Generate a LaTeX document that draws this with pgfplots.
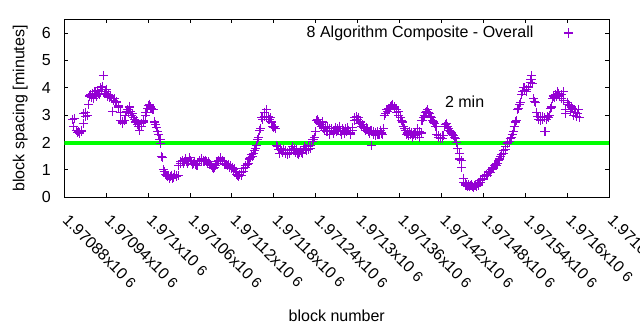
\documentclass[border=0pt,12pt]{standalone}
\usepackage{fontspec}
\setmainfont{Liberation Sans}
\usepackage{pgfplots}
\pgfplotsset{compat=1.18}
\definecolor{gpviolet}{HTML}{9400D3}
\definecolor{gpgreen}{HTML}{00FF00}
\begin{document}
\begin{tikzpicture}
% x values: block number minus 1970000
\begin{axis}[
  scale only axis,
  width=408.75pt, height=133.5pt,
  xmin=880, xmax=1660, ymin=0, ymax=6.5,
  xtick={880,940,...,1660},
  xticklabels={1.97088x10 {\small 6},1.97094x10 {\small 6},1.971x10 {\small 6},1.97106x10 {\small 6},1.97112x10 {\small 6},1.97118x10 {\small 6},1.97124x10 {\small 6},1.9713x10 {\small 6},1.97136x10 {\small 6},1.97142x10 {\small 6},1.97148x10 {\small 6},1.97154x10 {\small 6},1.9716x10 {\small 6},1.97166x10 {\small 6}},
  ytick={0,1,...,6},
  /pgf/number format/assume math mode=true,
  tick align=inside,
  major tick length=3pt,
  axis line style={line width=0.75pt},
  every tick/.style={line width=0.75pt, black},
  xticklabel style={xshift=4.2pt, yshift=-11.8pt, rotate=-45, anchor=north west, inner sep=0pt},
  yticklabel style={xshift=-6pt},
  every axis x label/.style={at={(axis description cs:0.5,0)}, anchor=center, yshift=-88.5pt},
  every axis y label/.style={at={(axis description cs:0,0.5)}, xshift=-33pt, rotate=90, anchor=center},
  xlabel={block number},
  ylabel={block spacing [minutes]},
  legend plot pos=right,
  legend cell align=right,
  legend style={draw=none, fill=none, at={(axis cs:1626.6,6)}, anchor=east},
  legend image code/.code={\path[draw=none,fill=none] (0cm,-0.1cm) rectangle (1.2cm,0.1cm); \draw plot coordinates {(0.85cm,0cm)};},
]
\addplot[only marks, mark=+, mark size=3.4pt, color=gpviolet, mark options={line width=0.8pt}] coordinates {
(892,2.85)(893,2.6)(895,2.88)(897,2.45)(899,2.38)(901,2.4)(902,2.35)(904,2.45)(905,2.42)(907,2.7)
(908,3.05)(910,3.1)(911,2.95)(913,3.0)(915,3.4)(916,3.7)(918,3.75)(919,3.65)(921,3.8)(922,3.6)
(924,3.85)(926,3.7)(927,3.9)(929,3.8)(930,3.75)(932,4.0)(933,3.95)(935,4.05)(936,4.45)(937,3.8)
(939,3.85)(940,3.95)(942,3.7)(943,3.75)(945,3.65)(946,3.7)(948,3.6)(949,3.15)(951,3.55)(952,3.6)
(954,3.45)(955,3.5)(957,3.3)(958,3.35)(960,3.1)(961,2.8)(963,2.75)(964,2.7)(966,2.8)(967,3.0)
(969,3.15)(970,3.2)(972,3.1)(973,3.3)(975,3.15)(976,3.0)(978,3.05)(979,2.9)(981,2.85)(982,2.75)
(984,2.8)(985,2.65)(987,2.6)(988,2.45)(990,2.7)(991,2.6)(993,2.75)(994,2.8)(996,3.0)(997,3.1)
(999,3.25)(1000,3.35)(1002,3.4)(1003,3.3)(1005,3.25)(1006,3.2)(1008,3.2)(1009,2.75)(1011,2.65)(1012,2.55)
(1014,2.4)(1015,2.3)(1017,2.1)(1018,1.95)(1019,1.5)(1020,1.45)(1022,1.0)(1023,0.95)(1025,0.85)(1026,0.8)
(1028,0.75)(1029,0.8)(1031,0.7)(1032,0.75)(1034,0.8)(1035,0.7)(1037,0.72)(1038,0.85)(1040,0.78)(1041,0.75)
(1043,0.8)(1044,1.15)(1046,1.25)(1047,1.3)(1049,1.35)(1050,1.25)(1052,1.3)(1053,1.4)(1055,1.3)(1056,1.25)
(1058,1.3)(1059,1.45)(1061,1.35)(1062,1.3)(1064,1.2)(1065,1.25)(1067,1.3)(1068,1.2)(1070,1.15)(1071,1.25)
(1073,1.3)(1074,1.35)(1076,1.3)(1077,1.4)(1079,1.35)(1080,1.3)(1082,1.35)(1083,1.3)(1085,1.25)(1086,1.3)
(1088,1.25)(1089,1.2)(1091,1.15)(1092,1.1)(1094,1.05)(1095,1.1)(1097,1.15)(1098,1.25)(1100,1.3)(1101,1.35)
(1103,1.45)(1104,1.4)(1106,1.3)(1107,1.35)(1109,1.25)(1110,1.2)(1112,1.2)(1113,1.15)(1115,1.2)(1116,1.1)
(1118,1.15)(1119,1.05)(1121,1.1)(1122,1.0)(1124,1.05)(1125,0.95)(1127,0.85)(1128,0.8)(1130,0.75)(1131,0.85)
(1133,0.8)(1134,0.9)(1136,0.95)(1137,1.05)(1139,1.1)(1140,1.15)(1142,1.2)(1143,1.25)(1145,1.4)(1146,1.45)
(1148,1.55)(1149,1.5)(1151,1.6)(1152,1.7)(1154,1.8)(1155,1.9)(1157,2.1)(1158,2.2)(1160,2.45)(1161,2.5)
(1163,2.9)(1164,2.85)(1166,2.95)(1167,3.1)(1169,3.2)(1170,2.9)(1172,2.95)(1173,2.85)(1175,2.9)(1176,2.75)
(1178,2.6)(1179,2.55)(1181,2.6)(1182,2.5)(1184,1.9)(1185,1.85)(1187,1.75)(1188,1.6)(1190,1.8)(1191,1.7)
(1193,1.65)(1194,1.75)(1196,1.6)(1197,1.7)(1199,1.55)(1200,1.65)(1202,1.7)(1203,1.6)(1205,1.75)(1206,1.85)
(1208,1.7)(1209,1.8)(1211,1.65)(1212,1.75)(1214,1.6)(1215,1.55)(1217,1.65)(1218,1.7)(1220,1.65)(1221,1.6)
(1223,1.75)(1224,1.85)(1226,1.8)(1227,1.7)(1229,1.75)(1230,1.85)(1232,1.9)(1233,1.8)(1235,2.05)(1236,2.1)
(1238,2.2)(1239,2.4)(1241,2.8)(1242,2.85)(1244,2.75)(1245,2.7)(1247,2.65)(1248,2.6)(1250,2.75)(1251,2.5)
(1253,2.45)(1254,2.55)(1256,2.4)(1257,2.6)(1259,2.5)(1260,2.3)(1262,2.45)(1263,2.5)(1265,2.35)(1266,2.45)
(1268,2.55)(1269,2.4)(1271,2.5)(1272,2.45)(1274,2.6)(1275,2.4)(1277,2.3)(1278,2.5)(1280,2.45)(1281,2.35)
(1283,2.5)(1284,2.4)(1286,2.55)(1287,2.45)(1289,2.35)(1290,2.3)(1292,2.45)(1293,2.55)(1295,2.8)(1296,2.9)
(1298,2.95)(1299,2.85)(1301,2.9)(1302,2.7)(1304,2.75)(1305,2.6)(1307,2.65)(1308,2.55)(1310,2.5)(1311,2.45)
(1313,2.55)(1314,2.5)(1316,2.4)(1317,2.35)(1319,2.45)(1320,1.9)(1322,2.3)(1323,2.4)(1325,2.35)(1326,2.25)
(1328,2.4)(1329,2.3)(1331,2.3)(1332,2.45)(1334,2.35)(1335,2.3)(1337,2.5)(1338,3.0)(1340,3.05)(1341,3.2)
(1343,3.15)(1344,3.25)(1346,3.2)(1347,3.3)(1349,3.35)(1350,3.4)(1352,3.3)(1353,3.25)(1355,3.2)(1356,3.1)
(1358,3.15)(1359,3.0)(1361,2.9)(1362,2.8)(1364,2.75)(1365,2.6)(1367,2.5)(1368,2.45)(1370,2.3)(1371,2.35)
(1373,2.25)(1374,2.4)(1376,2.3)(1377,2.35)(1379,2.2)(1380,2.3)(1382,2.35)(1383,2.25)(1385,2.5)(1386,2.3)
(1388,2.4)(1389,2.2)(1391,2.35)(1392,2.8)(1394,2.9)(1395,3.0)(1397,3.1)(1398,3.15)(1400,3.2)(1401,3.1)
(1403,3.05)(1404,2.95)(1406,2.9)(1407,2.8)(1409,2.75)(1410,2.7)(1412,2.6)(1413,2.3)(1415,2.25)(1416,2.2)
(1418,2.15)(1419,2.2)(1421,2.15)(1422,2.25)(1424,2.6)(1425,2.65)(1427,2.7)(1428,2.6)(1430,2.5)(1431,2.45)
(1433,2.4)(1434,2.35)(1436,2.3)(1437,2.25)(1439,2.2)(1440,2.15)(1442,2.0)(1443,1.8)(1445,1.6)(1446,1.4)
(1448,1.35)(1449,1.1)(1451,0.7)(1452,0.55)(1454,0.5)(1455,0.45)(1457,0.4)(1458,0.45)(1460,0.38)(1461,0.42)
(1463,0.45)(1464,0.4)(1466,0.35)(1467,0.42)(1469,0.45)(1470,0.4)(1472,0.5)(1473,0.45)(1475,0.55)(1476,0.6)
(1478,0.7)(1479,0.65)(1481,0.75)(1482,0.8)(1484,0.85)(1485,0.8)(1487,0.9)(1488,0.95)(1490,0.9)(1491,1.0)
(1493,1.1)(1494,1.05)(1496,1.15)(1497,1.2)(1499,1.15)(1500,1.25)(1502,1.35)(1503,1.4)(1505,1.5)(1506,1.55)
(1508,1.6)(1509,1.7)(1511,1.75)(1512,1.85)(1514,1.95)(1515,2.0)(1517,2.05)(1518,2.15)(1520,2.2)(1521,2.3)
(1523,2.4)(1524,2.6)(1526,2.75)(1527,2.8)(1529,3.2)(1530,3.25)(1532,3.4)(1533,3.45)(1535,3.75)(1536,3.85)
(1538,4.0)(1539,3.9)(1541,3.95)(1542,3.85)(1544,4.0)(1545,4.05)(1547,4.2)(1548,4.3)(1549,4.45)(1550,4.15)
(1552,3.6)(1553,3.5)(1555,3.45)(1556,3.1)(1558,2.95)(1559,2.85)(1561,2.9)(1562,2.8)(1564,2.95)(1565,2.85)
(1567,2.9)(1568,2.4)(1570,2.85)(1571,2.95)(1573,2.9)(1574,3.0)(1576,3.25)(1577,3.3)(1579,3.6)(1580,3.7)
(1582,3.65)(1583,3.75)(1585,3.7)(1586,3.85)(1588,3.8)(1589,3.7)(1591,3.75)(1592,3.6)(1594,3.85)(1595,3.55)
(1597,3.2)(1598,3.05)(1600,3.45)(1601,3.4)(1603,3.35)(1604,3.15)(1606,3.3)(1607,3.25)(1609,3.0)(1610,3.2)
(1612,3.1)(1613,2.95)(1615,3.05)(1616,3.2)(1618,2.9)
};
\addlegendentry{8 Algorithm Composite - Overall}
\addplot[gpgreen, line width=3pt, forget plot] coordinates {(880,2) (1660,2)};
\node[anchor=center] at (axis cs:1453,3.5) {2 min};
\end{axis}
\pgfresetboundingbox
\useasboundingbox (-48.2pt,-99.5pt) rectangle (431.8pt,148pt);
\end{tikzpicture}
\end{document}
